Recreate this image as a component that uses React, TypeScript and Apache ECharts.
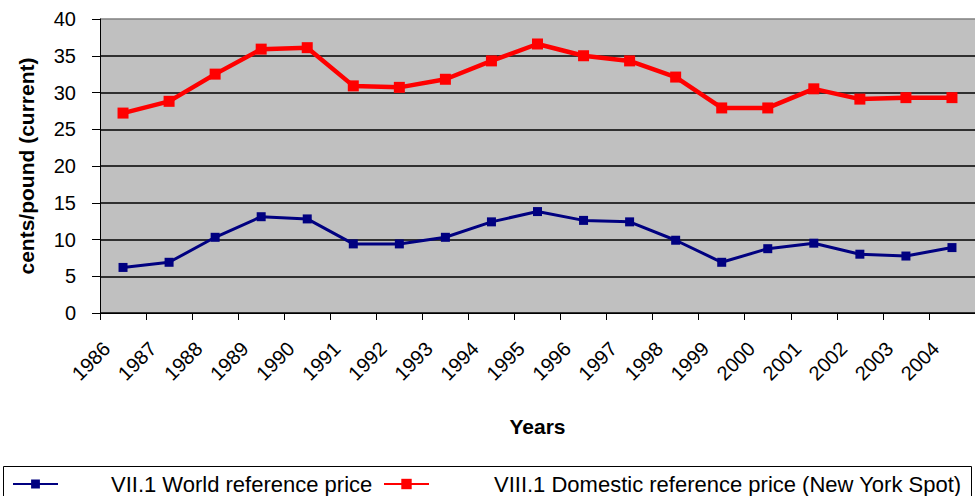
import React, { useEffect, useRef } from "react";
import * as echarts from "echarts";

const years = ["1986", "1987", "1988", "1989", "1990", "1991", "1992", "1993", "1994", "1995", "1996", "1997", "1998", "1999", "2000", "2001", "2002", "2003", "2004"];
const worldPrice = [6.2, 6.9, 10.3, 13.1, 12.8, 9.4, 9.4, 10.3, 12.4, 13.8, 12.6, 12.4, 9.9, 6.9, 8.75, 9.5, 8.0, 7.75, 8.9];
const domesticPrice = [27.2, 28.8, 32.5, 35.9, 36.1, 30.9, 30.7, 31.8, 34.3, 36.6, 35.0, 34.3, 32.1, 27.9, 27.9, 30.5, 29.1, 29.3, 29.3];
const yMin = 0;
const yMax = 40;
const yStep = 5;

const worldName = "VII.1 World reference price";
const domesticName = "VIII.1 Domestic reference price (New York Spot)";

const FONT = "'Liberation Sans', Arial, sans-serif";

export default function App() {
  const ref = useRef<HTMLDivElement>(null);
  useEffect(() => {
    document.body.style.margin = "0";
    if (!ref.current) return;
    const chart = echarts.init(ref.current, null, { renderer: "svg" });
    const gridColors = ["#000", "#000", "#000", "#000", "#000", "#000", "#000", "#000", "#808080"];
    chart.setOption({
      animation: false,
      textStyle: { fontFamily: FONT, color: "#000" },
      grid: { left: 100, right: 0, top: 19, bottom: 183, show: true, backgroundColor: "#C0C0C0", borderWidth: 0 },
      xAxis: {
        type: "category",
        data: years,
        boundaryGap: true,
        name: "Years",
        nameLocation: "middle",
        nameGap: 103,
        nameTextStyle: { fontFamily: FONT, fontSize: 21, fontWeight: "bold", color: "#000" },
        axisLine: { show: true, lineStyle: { color: "#000", width: 1 } },
        axisTick: { show: true, length: 7, interval: 0, lineStyle: { color: "#000" } },
        axisLabel: {
          interval: 0,
          rotate: 45,
          fontSize: 20,
          fontFamily: FONT,
          color: "#000",
          margin: 16,
          padding: [0, 23, 0, 0],
        },
        splitLine: { show: false },
      },
      yAxis: {
        type: "value",
        min: yMin,
        max: yMax,
        interval: yStep,
        name: "cents/pound (current)",
        nameLocation: "middle",
        nameGap: 63,
        nameTextStyle: { fontFamily: FONT, fontSize: 21, fontWeight: "bold", color: "#000" },
        axisLine: { show: true, lineStyle: { color: "#000", width: 1 } },
        axisTick: { show: true, length: 8, lineStyle: { color: "#000" } },
        axisLabel: { fontSize: 20, fontFamily: FONT, color: "#000", margin: 24 },
        splitLine: { show: true, lineStyle: { color: gridColors, width: 1.6 } },
      },
      legend: [
        {
          data: [worldName],
          left: 12,
          top: 473,
          itemWidth: 45,
          itemHeight: 11,
          padding: 0,
          textStyle: { fontFamily: FONT, fontSize: 22, color: "#000", padding: [0, 0, 0, 48] },
        },
        {
          data: [domesticName],
          left: 383,
          top: 473,
          itemWidth: 45,
          itemHeight: 13,
          padding: 0,
          textStyle: { fontFamily: FONT, fontSize: 22, color: "#000", padding: [0, 0, 0, 60] },
        },
      ],
      graphic: [
        {
          type: "rect",
          shape: { x: 3.5, y: 466.5, width: 968, height: 40 },
          style: { fill: "none", stroke: "#000", lineWidth: 1 },
          silent: true,
        },
      ],
      series: [
        {
          name: worldName,
          type: "line",
          data: worldPrice,
          symbol: "rect",
          symbolSize: 9,
          lineStyle: { color: "#000080", width: 3 },
          itemStyle: { color: "#000080" },
        },
        {
          name: domesticName,
          type: "line",
          data: domesticPrice,
          symbol: "rect",
          symbolSize: 11,
          lineStyle: { color: "#FF0000", width: 4.5 },
          itemStyle: { color: "#FF0000" },
        },
      ],
    });
    return () => chart.dispose();
  }, []);
  return <div ref={ref} style={{ width: 975, height: 496, position: "absolute", left: 0, top: 0 }} />;
}
